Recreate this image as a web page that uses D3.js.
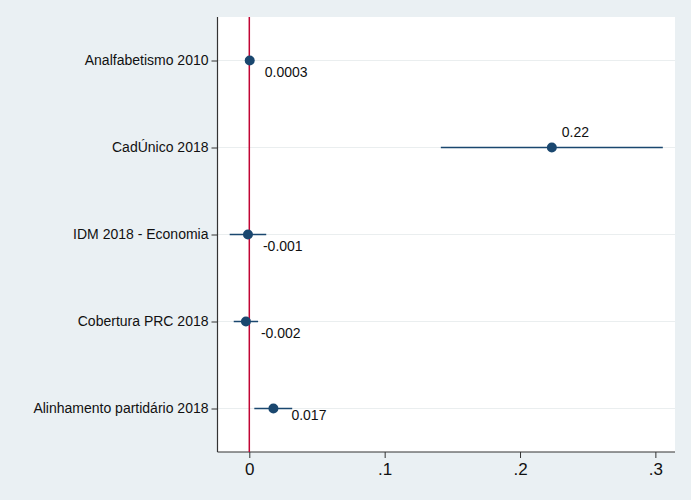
<!DOCTYPE html>
<html><head><meta charset="utf-8">
<script src="https://cdn.jsdelivr.net/npm/d3@7"></script>
<style>body{margin:0;background:#eaf0f3;} svg{display:block;}</style>
</head><body>
<svg id="c" width="691" height="500"></svg>
<script>
const categories = ["Analfabetismo 2010","CadÚnico 2018","IDM 2018 - Economia","Cobertura PRC 2018","Alinhamento partidário 2018"];
const estimates = [0.0003, 0.2235, -0.001, -0.0025, 0.0178];
const ciLow = [0.0001, 0.1415, -0.0145, -0.0115, 0.0037];
const ciHigh = [0.0005, 0.3055, 0.0125, 0.0065, 0.0317];
const valueLabels = ["0.0003","0.22","-0.001","-0.002","0.017"];
const labelClock = [4, 1, 4, 4, 3];
const xTicks = [0, 0.1, 0.2, 0.3];
const xTickLabels = ["0", ".1", ".2", ".3"];

const W = 691, H = 500;
const m = {left: 217.5, right: 16, top: 17, bottom: 48};
const svg = d3.select("#c");
svg.append("rect").attr("width", W).attr("height", H).attr("fill", "#eaf0f3");
svg.append("rect").attr("x", m.left).attr("y", m.top)
  .attr("width", W - m.right - m.left).attr("height", H - m.bottom - m.top)
  .attr("fill", "#ffffff");

const x = d3.scaleLinear().domain([-0.0235, 0.3145]).range([m.left, W - m.right]);
const y = d3.scalePoint().domain(categories).range([m.top, H - m.bottom]).padding(0.5);

// gridlines
svg.append("g").selectAll("line").data(categories).join("line")
  .attr("x1", m.left).attr("x2", W - m.right)
  .attr("y1", d => y(d)).attr("y2", d => y(d))
  .attr("stroke", "#eaeeef").attr("stroke-width", 1.2);

// y axis
const yAxis = svg.append("g").attr("transform", `translate(${m.left},0)`)
  .call(d3.axisLeft(y).tickSize(6).tickPadding(3));
yAxis.select(".domain").attr("stroke", "#333").attr("stroke-width", 1.2).attr("d", `M0,${m.top}V${H - m.bottom}`);
yAxis.selectAll(".tick line").attr("stroke", "#333");
yAxis.selectAll("text").attr("font-family", "Arial, 'Liberation Sans', sans-serif").attr("font-size", 14).attr("fill", "#111");

// x axis
const xAxis = svg.append("g").attr("transform", `translate(0,${H - m.bottom})`)
  .call(d3.axisBottom(x).tickValues(xTicks).tickFormat((d, i) => xTickLabels[i]).tickSize(6).tickPadding(5));
xAxis.select(".domain").attr("stroke", "#333").attr("stroke-width", 1.2).attr("d", `M${m.left},0H${W - m.right}`);
xAxis.selectAll(".tick line").attr("stroke", "#333");
xAxis.selectAll("text").attr("font-family", "Arial, 'Liberation Sans', sans-serif").attr("font-size", 17).attr("fill", "#111");

// reference line at 0
svg.append("line").attr("x1", x(0)).attr("x2", x(0)).attr("y1", m.top).attr("y2", H - m.bottom)
  .attr("stroke", "#c10534").attr("stroke-width", 1.5);

const data = categories.map((c, i) => ({c, est: estimates[i], lo: ciLow[i], hi: ciHigh[i], lab: valueLabels[i], clock: labelClock[i]}));

svg.append("g").selectAll("line").data(data).join("line")
  .attr("x1", d => x(d.lo)).attr("x2", d => x(d.hi))
  .attr("y1", d => y(d.c)).attr("y2", d => y(d.c))
  .attr("stroke", "#1a476f").attr("stroke-width", 1.5);

svg.append("g").selectAll("circle").data(data).join("circle")
  .attr("cx", d => x(d.est)).attr("cy", d => y(d.c)).attr("r", 5)
  .attr("fill", "#1a476f");

const off = {1: [10, -11], 3: [18, 11], 4: [15, 16]};
svg.append("g").selectAll("text").data(data).join("text")
  .attr("x", d => x(d.est) + off[d.clock][0])
  .attr("y", d => y(d.c) + off[d.clock][1])
  .attr("font-family", "Arial, 'Liberation Sans', sans-serif").attr("font-size", 14).attr("fill", "#111")
  .text(d => d.lab);
</script>
</body></html>
